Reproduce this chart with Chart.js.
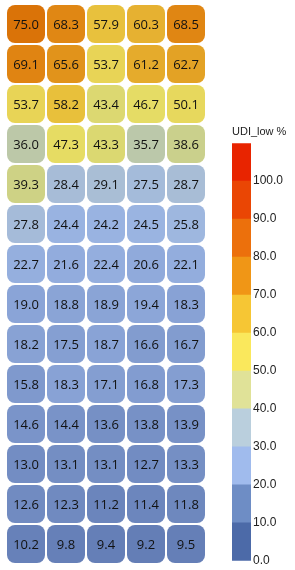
<!DOCTYPE html>
<html>
<head>
<meta charset="utf-8">
<script src="https://cdn.jsdelivr.net/npm/chart.js@4/dist/chart.umd.min.js"></script>
<style>
  html, body { margin: 0; padding: 0; background: #fff; }
  #grid { position: absolute; left: 0; top: 0; width: 215px; height: 570px; }
  #legend { position: absolute; left: 225px; top: 0; width: 70px; height: 570px; }
</style>
</head>
<body>
<canvas id="grid" width="215" height="570"></canvas>
<canvas id="legend" width="70" height="570"></canvas>
<script>
// one array per column, top row first
const col1 = [75.0, 69.1, 53.7, 36.0, 39.3, 27.8, 22.7, 19.0, 18.2, 15.8, 14.6, 13.0, 12.6, 10.2];
const col2 = [68.3, 65.6, 58.2, 47.3, 28.4, 24.4, 21.6, 18.8, 17.5, 18.3, 14.4, 13.1, 12.3, 9.8];
const col3 = [57.9, 53.7, 43.4, 43.3, 29.1, 24.2, 22.4, 18.9, 18.7, 17.1, 13.6, 13.1, 11.2, 9.4];
const col4 = [60.3, 61.2, 46.7, 35.7, 27.5, 24.5, 20.6, 19.4, 16.6, 16.8, 13.8, 12.7, 11.4, 9.2];
const col5 = [68.5, 62.7, 50.1, 38.6, 28.7, 25.8, 22.1, 18.3, 16.7, 17.3, 13.9, 13.3, 11.8, 9.5];
const columns = [col1, col2, col3, col4, col5];
const colLabels = ['1', '2', '3', '4', '5'];

// colour bar: bin edges and ticks
const binEdges = [0, 10, 20, 30, 40, 50, 60, 70, 80, 90, 100, 110];
const tickValues = [0, 10, 20, 30, 40, 50, 60, 70, 80, 90, 100];
const legendTitle = 'UDI_low %';

const binColors = [
    'rgb(76,106,168)', 'rgb(110,141,197)', 'rgb(160,187,237)', 'rgb(186,207,221)',
    'rgb(224,226,152)', 'rgb(250,232,92)', 'rgb(246,198,52)', 'rgb(240,150,22)',
    'rgb(236,112,12)', 'rgb(234,70,4)', 'rgb(232,36,0)'
];

// continuous ramp used for the cells
const ramp = [
    [0, [80, 108, 165]], [10, [102, 128, 184]], [15, [124, 150, 202]],
    [20, [142, 168, 218]], [25, [155, 181, 226]], [30, [172, 192, 210]],
    [36, [188, 200, 168]], [40, [210, 212, 125]], [47, [230, 220, 100]],
    [54, [232, 212, 85]], [58, [232, 193, 60]], [62, [228, 165, 40]],
    [66, [225, 145, 25]], [69, [224, 132, 18]], [75, [218, 115, 8]],
    [110, [220, 40, 0]]
];

function cellColor(v) {
    for (let i = 1; i < ramp.length; i++) {
        if (v <= ramp[i][0]) {
            const [a, ca] = ramp[i - 1];
            const [b, cb] = ramp[i];
            const t = (v - a) / (b - a);
            const c = ca.map((x, k) => Math.round(x + (cb[k] - x) * t));
            return `rgb(${c[0]},${c[1]},${c[2]})`;
        }
    }
    return 'rgb(220,40,0)';
}

const nRows = col1.length;
const rowDatasets = [];
for (let r = 0; r < nRows; r++) {
    rowDatasets.push({
        data: columns.map(() => [r + 0.025, r + 0.975]),
        values: columns.map(c => c[r]),
        backgroundColor: columns.map(c => cellColor(c[r])),
        borderWidth: 0,
        borderRadius: 8,
        borderSkipped: false,
        grouped: false,
        barPercentage: 0.95,
        categoryPercentage: 1
    });
}

const cellText = {
    id: 'cellText',
    afterDatasetsDraw(chart) {
        const ctx = chart.ctx;
        ctx.save();
        ctx.font = '13px "Open Sans"';
        ctx.fillStyle = '#111';
        ctx.textAlign = 'center';
        ctx.textBaseline = 'middle';
        chart.data.datasets.forEach((ds, i) => {
            chart.getDatasetMeta(i).data.forEach((el, j) => {
                ctx.fillText(ds.values[j].toFixed(1), el.x, (el.y + el.base) / 2 + 1);
            });
        });
        ctx.restore();
    }
};

new Chart('grid', {
    type: 'bar',
    data: { labels: colLabels, datasets: rowDatasets },
    options: {
        responsive: false,
        animation: false,
        layout: { padding: { left: 6, right: 9, top: 4, bottom: 6 } },
        plugins: { legend: { display: false }, tooltip: { enabled: false } },
        scales: {
            x: { display: false },
            y: { display: false, min: 0, max: nRows, reverse: true }
        }
    },
    plugins: [cellText]
});

// colour bar
const binDatasets = binColors.map((c, i) => ({
    data: [binEdges[i + 1] - binEdges[i]],
    backgroundColor: c,
    borderWidth: 0,
    barPercentage: 1,
    categoryPercentage: 1
}));

new Chart('legend', {
    type: 'bar',
    data: { labels: [legendTitle], datasets: binDatasets },
    options: {
        responsive: false,
        animation: false,
        layout: { padding: { left: 7, right: 0, top: 120, bottom: 4 } },
        plugins: {
            legend: { display: false },
            tooltip: { enabled: false },
            title: {
                display: true,
                text: legendTitle,
                align: 'start',
                color: '#222',
                font: { family: '"Liberation Sans", Arial', size: 11, weight: 'normal' },
                padding: { top: 5, bottom: 5 }
            }
        },
        scales: {
            x: { display: false, stacked: true },
            y: {
                stacked: true,
                position: 'right',
                min: binEdges[0],
                max: binEdges[binEdges.length - 1],
                afterBuildTicks: s => { s.ticks = tickValues.map(v => ({ value: v })); },
                afterFit: s => { s.width = 44; },
                grid: { display: false, drawTicks: false, tickLength: 0 },
                border: { display: false },
                ticks: {
                    padding: 2,
                    labelOffset: 0,
                    color: '#222',
                    font: { family: '"Liberation Sans", Arial', size: 12 },
                    callback: v => v.toFixed(1)
                }
            }
        }
    }
});
</script>
</body>
</html>
